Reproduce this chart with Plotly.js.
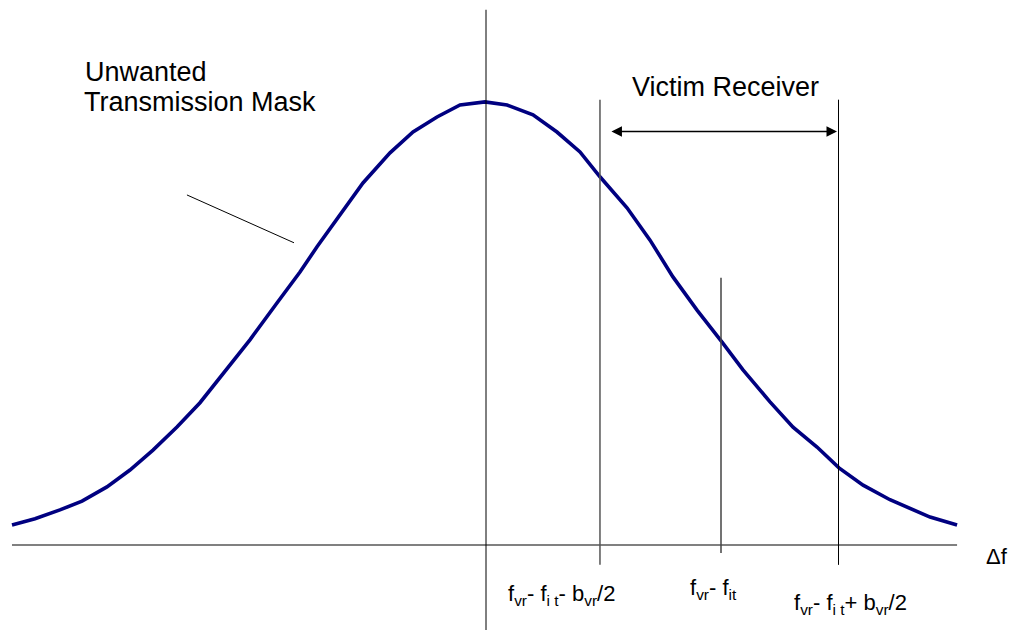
<!DOCTYPE html>
<html>
<head>
<meta charset="utf-8">
<script src="https://cdn.plot.ly/plotly-3.0.1.min.js"></script>
<style>html,body{margin:0;padding:0;background:#fff;}#chart{width:1013px;height:630px;}</style>
</head>
<body>
<div id="chart"></div>
<script>
// Unwanted transmission mask (frequency offset vs relative level)
var maskOffset = [-4.034,-3.838,-3.626,-3.438,-3.226,-3.030,-2.834,-2.630,-2.434,-2.264,-2.009,-1.779,-1.583,-1.438,-1.217,-1.047,-0.817,-0.621,-0.417,-0.221,-0.009,0.179,0.400,0.604,0.800,0.970,1.200,1.396,1.591,1.796,2.009,2.187,2.417,2.613,2.817,3.004,3.209,3.438,3.779,4.009];
var maskLevel  = [0.045,0.059,0.079,0.099,0.131,0.169,0.214,0.266,0.321,0.377,0.463,0.546,0.616,0.673,0.756,0.817,0.885,0.932,0.966,0.993,1.000,0.993,0.971,0.932,0.887,0.831,0.761,0.688,0.605,0.530,0.458,0.395,0.323,0.266,0.221,0.174,0.135,0.102,0.063,0.045];

// Receiver band markers (frequency offsets)
var markerNames  = ['lower', 'centre', 'upper'];
var markerOffset = [0.970, 2.000, 3.000];
var markerTop    = [1.005, 0.603, 1.005];

var tickLabels = [
  'f<sub>vr</sub>- f<sub>i t</sub>- b<sub>vr</sub>/2',
  'f<sub>vr</sub>- f<sub>it</sub>',
  'f<sub>vr</sub>- f<sub>i t</sub>+ b<sub>vr</sub>/2'
];

var FONT = 'Arial, "Liberation Sans", sans-serif';

var trace = {
  x: maskOffset, y: maskLevel, type: 'scatter', mode: 'lines',
  line: {color: '#000080', width: 3.6, shape: 'linear'},
  hoverinfo: 'skip', showlegend: false
};

var shapes = [
  // frequency axis
  {type:'line', xref:'x', yref:'y', x0:maskOffset[0], x1:maskOffset[maskOffset.length-1], y0:0, y1:0, line:{color:'#808080', width:2}},
  // transmitter centre line
  {type:'line', xref:'x', yref:'y', x0:0, x1:0, y0:-0.25, y1:1.208, line:{color:'#000', width:1}},
  // pointer from label to mask
  {type:'line', xref:'x', yref:'y', x0:-2.545, y0:0.790, x1:-1.634, y1:0.682, line:{color:'#000', width:1}}
];
var markerStyles = [{color:'#555', width:1.5}, {color:'#444', width:1.5}, {color:'#000', width:1}];
var markerBottom = [-0.045, -0.018, -0.045];
for (var i = 0; i < markerOffset.length; i++) {
  shapes.push({type:'line', xref:'x', yref:'y', x0:markerOffset[i], x1:markerOffset[i], y0:markerBottom[i], y1:markerTop[i], line:markerStyles[i]});
}

var labelPos = [[0.170,-0.112],[1.720,-0.100],[2.605,-0.134]];
var annotations = [
  {xref:'x', yref:'y', x:-3.430, y:1.068, text:'Unwanted', showarrow:false, xanchor:'left', yanchor:'middle', font:{family:FONT, size:27, color:'#000'}},
  {xref:'x', yref:'y', x:-3.440, y:1.000, text:'Transmission Mask', showarrow:false, xanchor:'left', yanchor:'middle', font:{family:FONT, size:27, color:'#000'}},
  {xref:'x', yref:'y', x:1.225, y:1.034, text:'Victim Receiver', showarrow:false, xanchor:'left', yanchor:'middle', font:{family:FONT, size:27, color:'#000'}},
  {xref:'x', yref:'y', x:4.235, y:-0.027, text:'\u0394f', showarrow:false, xanchor:'left', yanchor:'middle', font:{family:FONT, size:22, color:'#000'}},
  // bandwidth arrow
  {xref:'x', yref:'y', axref:'x', ayref:'y', x:2.987, y:0.933, ax:1.055, ay:0.933, text:'', showarrow:true,
   arrowside:'end+start', arrowhead:2, arrowsize:1.4, arrowwidth:1.5, arrowcolor:'#000', standoff:0, startstandoff:0}
];
for (var j = 0; j < tickLabels.length; j++) {
  annotations.push({xref:'x', yref:'y', x:labelPos[j][0], y:labelPos[j][1], text:tickLabels[j], showarrow:false,
    xanchor:'left', yanchor:'middle', font:{family:FONT, size:22, color:'#000'}});
}

var layout = {
  width:1013, height:630, autosize:false,
  margin:{l:0, r:0, t:0, b:0, pad:0},
  paper_bgcolor:'#fff', plot_bgcolor:'#fff',
  xaxis:{range:[-4.136, 4.485], visible:false, fixedrange:true},
  yaxis:{range:[-0.192, 1.230], visible:false, fixedrange:true},
  shapes: shapes, annotations: annotations, showlegend:false
};

Plotly.newPlot('chart', [trace], layout, {displayModeBar:false, staticPlot:true});
</script>
</body>
</html>
